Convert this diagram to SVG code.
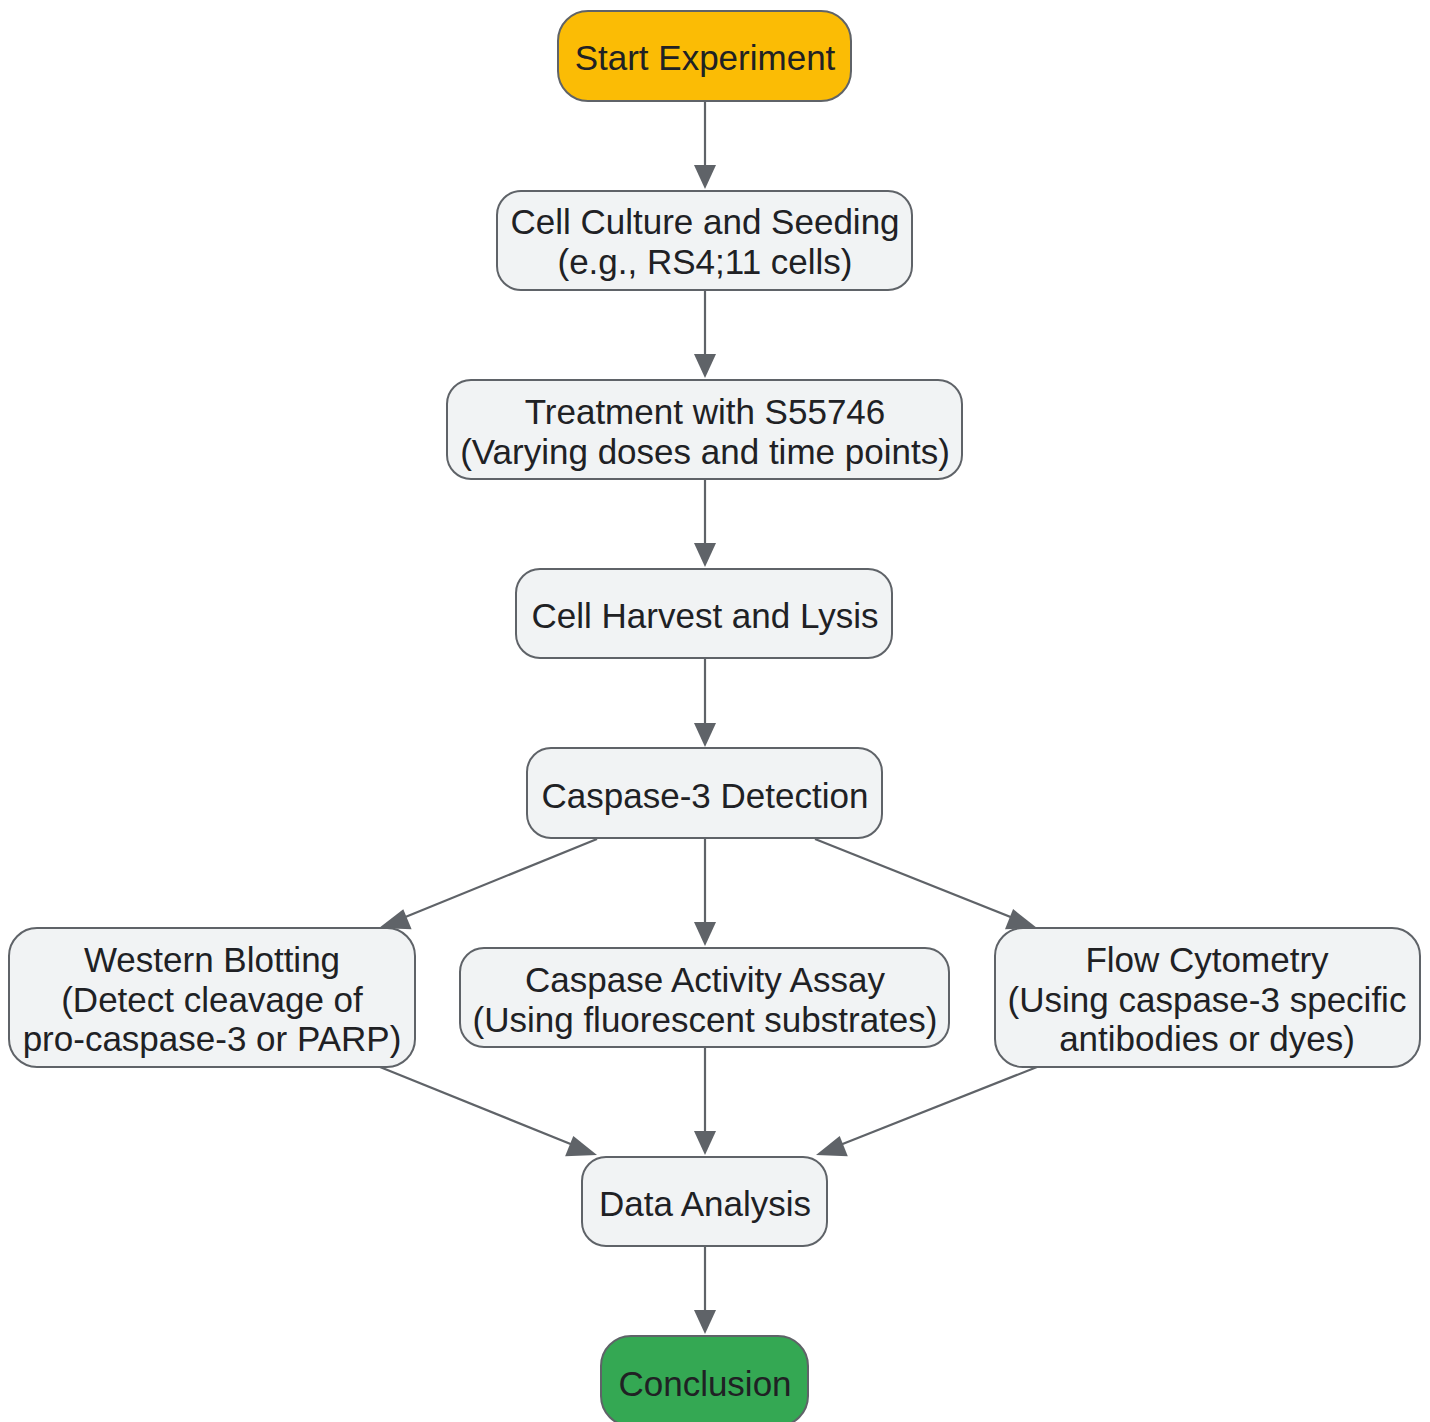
<svg xmlns="http://www.w3.org/2000/svg" width="1430" height="1422" viewBox="0 0 1430 1422">
<defs>
<style>
.n{stroke:#5f6368;stroke-width:2;}
.p{fill:#f1f3f4;}
.t{font-family:"Liberation Sans",Arial,sans-serif;font-size:35px;fill:#202124;text-anchor:middle;}
.e{stroke:#5f6368;stroke-width:2.2;fill:none;}
.h{fill:#5f6368;}
</style>
</defs>
<rect width="1430" height="1422" fill="#ffffff"/>
<g id="edges">
<line class="e" x1="705" y1="101" x2="705" y2="170"/>
<path class="h" d="M694,165 L716,165 L705,189 z"/>
<line class="e" x1="705" y1="290" x2="705" y2="360"/>
<path class="h" d="M694,354 L716,354 L705,378 z"/>
<line class="e" x1="705" y1="479" x2="705" y2="550"/>
<path class="h" d="M694,543 L716,543 L705,567 z"/>
<line class="e" x1="705" y1="658" x2="705" y2="730"/>
<path class="h" d="M694,723 L716,723 L705,747 z"/>
<line class="e" x1="705" y1="838" x2="705" y2="930"/>
<path class="h" d="M694,922 L716,922 L705,946 z"/>
<line class="e" x1="597" y1="839" x2="398" y2="920"/>
<path class="h" d="M403.3,909.3 L411.6,929.3 L379,928 z"/>
<line class="e" x1="815" y1="839" x2="1018" y2="920"/>
<path class="h" d="M1005.0,929.2 L1013.1,909.1 L1037,928 z"/>
<line class="e" x1="380" y1="1067" x2="578" y2="1147"/>
<path class="h" d="M565.1,1156.2 L573.3,1135.9 L597,1155 z"/>
<line class="e" x1="705" y1="1047" x2="705" y2="1140"/>
<path class="h" d="M694,1131 L716,1131 L705,1155 z"/>
<line class="e" x1="1037" y1="1067" x2="835" y2="1147"/>
<path class="h" d="M839.7,1135.9 L847.8,1156.3 L816,1155 z"/>
<line class="e" x1="705" y1="1246" x2="705" y2="1320"/>
<path class="h" d="M694,1310 L716,1310 L705,1334 z"/>
</g>
<g id="start">
<rect class="n" x="558" y="11" width="293" height="90" rx="30" fill="#fbbc05"/>
<text class="t" x="705" y="70">Start Experiment</text>
</g>
<g id="culture">
<rect class="n p" x="497" y="191" width="415" height="99" rx="24"/>
<text class="t" x="705" y="234">Cell Culture and Seeding</text>
<text class="t" x="705" y="274">(e.g., RS4;11 cells)</text>
</g>
<g id="treatment">
<rect class="n p" x="447" y="380" width="515" height="99" rx="24"/>
<text class="t" x="705" y="424">Treatment with S55746</text>
<text class="t" x="705" y="464">(Varying doses and time points)</text>
</g>
<g id="harvest">
<rect class="n p" x="516" y="569" width="376" height="89" rx="24"/>
<text class="t" x="705" y="628">Cell Harvest and Lysis</text>
</g>
<g id="detection">
<rect class="n p" x="527" y="748" width="355" height="90" rx="24"/>
<text class="t" x="705" y="808">Caspase-3 Detection</text>
</g>
<g id="western">
<rect class="n p" x="9" y="928" width="406" height="139" rx="28"/>
<text class="t" x="212" y="972">Western Blotting</text>
<text class="t" x="212" y="1012">(Detect cleavage of</text>
<text class="t" x="212" y="1051">pro-caspase-3 or PARP)</text>
</g>
<g id="activity">
<rect class="n p" x="460" y="948" width="489" height="99" rx="24"/>
<text class="t" x="705" y="992">Caspase Activity Assay</text>
<text class="t" x="705" y="1032">(Using fluorescent substrates)</text>
</g>
<g id="flow">
<rect class="n p" x="995" y="928" width="425" height="139" rx="28"/>
<text class="t" x="1207" y="972">Flow Cytometry</text>
<text class="t" x="1207" y="1012">(Using caspase-3 specific</text>
<text class="t" x="1207" y="1051">antibodies or dyes)</text>
</g>
<g id="analysis">
<rect class="n p" x="582" y="1157" width="245" height="89" rx="24"/>
<text class="t" x="705" y="1216">Data Analysis</text>
</g>
<g id="conclusion">
<rect class="n" x="601" y="1336" width="207" height="90" rx="30" fill="#34a853"/>
<text class="t" x="705" y="1396">Conclusion</text>
</g>
</svg>
